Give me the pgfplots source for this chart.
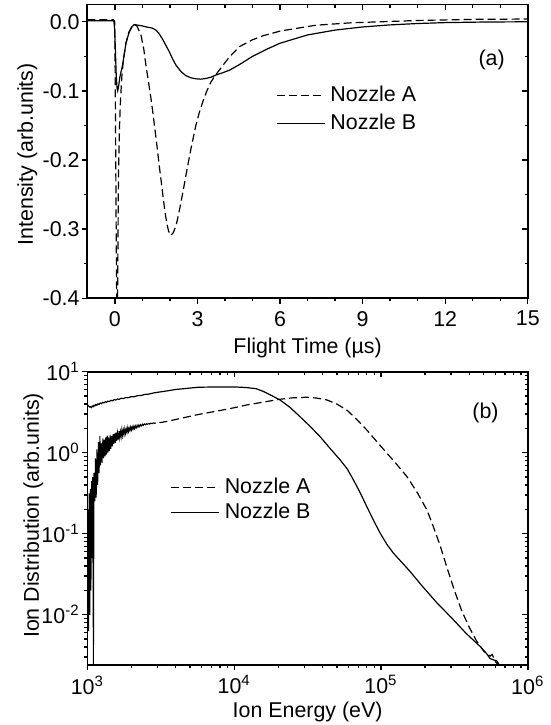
\documentclass[border=0pt]{standalone}
\usepackage{fontspec}
\setmainfont{Liberation Sans}
\usepackage{pgfplots}
\pgfplotsset{compat=1.18}

\pgfplotsset{
  frame/.style={
    scale only axis, width=220.2pt,
    axis line style={line width=0.9pt},
    every tick/.style={black, line width=0.7pt},
    major tick length=2.7pt, minor tick length=1.6pt,
  },
  panel/.style={frame, tick align=outside, xtick pos=left, ytick pos=left,
    yticklabel style={inner sep=1pt},
    legend cell align=left,
    legend image code/.code={\draw[##1] (0pt,0pt) -- (24pt,0pt);},
  },
  mirror/.style={frame, tick align=inside, xtick pos=right, ytick pos=right,
    xticklabels={}, yticklabels={}},
  nozA/.style={black, line width=0.6pt, dash pattern=on 4pt off 2pt},
  nozB/.style={black, line width=0.6pt},
  topgeom/.style={at={(43.7pt,213.35pt)}, anchor=south west, height=146.9pt,
    xmin=-1, xmax=15, ymin=-0.4, ymax=0.025,
    xtick={0,3,6,9,12,15}, minor x tick num=2,
    ytick={-0.4,-0.3,-0.2,-0.1,0}, minor y tick num=1},
  botgeom/.style={at={(43.7pt,30pt)}, anchor=south west, height=146.65pt,
    xmin=1000, xmax=1000000, ymin=0.0024, ymax=10,
    xtick={1000,10000,100000,1000000},
    minor xtick={2000,3000,4000,5000,6000,7000,8000,9000,20000,30000,40000,50000,60000,70000,80000,90000,200000,300000,400000,500000,600000,700000,800000,900000},
    ytick={0.01,0.1,1,10},
    minor ytick={0.003,0.004,0.005,0.006,0.007,0.008,0.009,0.02,0.03,0.04,0.05,0.06,0.07,0.08,0.09,0.2,0.3,0.4,0.5,0.6,0.7,0.8,0.9,2,3,4,5,6,7,8,9}},
}

\begin{document}
\fontsize{10.7}{12.8}\selectfont
\begin{tikzpicture}
\useasboundingbox (0,0) rectangle (275.5pt,362.5pt);

% (a) time of flight
\begin{axis}[panel, topgeom,
  xticklabels={0,3,6,9,12,15},
  yticklabels={-0.4,-0.3,-0.2,-0.1,0.0},
  xlabel={Flight Time (µs)}, ylabel={Intensity (arb.units)},
  xlabel style={at={(axis description cs:0.5,0)}, anchor=north, yshift=-19.8pt, inner sep=0pt},
  ylabel style={at={(axis description cs:-0.16,0.49)}, anchor=north, inner sep=0pt},
  legend style={draw=none, fill=none, at={(axis description cs:0.428,0.642)}, anchor=west,
    inner sep=0pt, row sep=3.6pt, column sep=2pt, nodes={inner sep=0.5pt}},
]
\addplot[nozA] coordinates {
  (-1,0.003) (-0.05,0.003) (-0.01,0.0) (0.01,-0.08) (0.03,-0.2) (0.05,-0.33)
  (0.07,-0.43) (0.09,-0.43) (0.11,-0.32) (0.13,-0.22) (0.16,-0.16) (0.2,-0.115)
  (0.25,-0.08) (0.3,-0.058) (0.4,-0.031) (0.5,-0.016) (0.6,-0.008) (0.7,-0.004)
  (0.8,-0.006) (0.945,-0.019) (1.05,-0.04) (1.127,-0.063) (1.22,-0.087)
  (1.31,-0.111) (1.39,-0.135) (1.465,-0.159) (1.54,-0.184) (1.61,-0.208)
  (1.685,-0.232) (1.757,-0.256) (1.82,-0.275) (1.878,-0.290) (1.95,-0.303)
  (2.036,-0.309) (2.12,-0.305) (2.22,-0.295) (2.31,-0.279) (2.40,-0.261)
  (2.49,-0.242) (2.58,-0.222) (2.67,-0.203) (2.76,-0.184) (2.85,-0.167)
  (2.94,-0.150) (3.06,-0.132) (3.19,-0.116) (3.34,-0.100) (3.49,-0.087)
  (3.64,-0.078) (3.79,-0.070) (4.0,-0.059) (4.16,-0.051) (4.52,-0.036)
  (5.0,-0.026) (5.4,-0.020) (6.0,-0.0135) (7.29,-0.005) (8.57,-0.0015)
  (10,0.0005) (11.1,0.002) (13,0.0035) (15,0.004)
};
\addlegendentry{Nozzle A}
\addplot[nozB] coordinates {
  (-1,0.0015) (-0.04,0.0015) (-0.01,-0.01) (0.02,-0.045) (0.05,-0.08)
  (0.08,-0.097) (0.1,-0.1) (0.13,-0.094) (0.18,-0.08) (0.28,-0.062)
  (0.4,-0.031) (0.52,-0.0145) (0.62,-0.007) (0.7,-0.004) (0.85,-0.005)
  (1.0,-0.006) (1.2,-0.008) (1.35,-0.009) (1.49,-0.012) (1.6,-0.017)
  (1.73,-0.025) (1.85,-0.034) (1.97,-0.043) (2.1,-0.054) (2.22,-0.063)
  (2.4,-0.072) (2.58,-0.078) (2.76,-0.081) (2.94,-0.0825) (3.12,-0.083)
  (3.31,-0.082) (3.5,-0.080) (3.67,-0.077) (3.9,-0.074) (4.16,-0.070)
  (4.52,-0.062) (5.0,-0.050) (5.5,-0.040) (6.0,-0.031) (7.0,-0.019)
  (8.0,-0.012) (9.0,-0.0075) (10,-0.0045) (11,-0.0025) (12,-0.0012)
  (13.5,-0.0003) (15,0.0)
};
\addlegendentry{Nozzle B}
\node at (axis description cs:0.918,0.811) {(a)};
\end{axis}
\begin{axis}[mirror, topgeom] \end{axis}

% (b) ion energy distribution
\begin{loglogaxis}[panel, botgeom,
  xticklabels={10\textsuperscript{3},10\textsuperscript{4},10\textsuperscript{5},10\textsuperscript{6}},
  yticklabels={10\textsuperscript{-2},10\textsuperscript{-1},10\textsuperscript{0},10\textsuperscript{1}},
  xticklabel style={inner sep=2.4pt},
  xlabel={Ion Energy (eV)}, ylabel={Ion Distribution (arb.units)},
  xlabel style={at={(axis description cs:0.5,0)}, anchor=north, yshift=-18.3pt, inner sep=0pt},
  ylabel style={at={(axis description cs:-0.1465,0.51)}, anchor=north, inner sep=0pt},
  legend style={draw=none, fill=none, at={(axis description cs:0.188,0.563)}, anchor=west,
    inner sep=0pt, row sep=2pt, column sep=2pt, nodes={inner sep=0.5pt}},
]
\addplot[nozA] coordinates {
  (2600,2.30) (2650,2.26) (2700,2.31) (2760,2.29) (2820,2.33) (2880,2.31)
  (2950,2.35) (3020,2.33) (3100,2.37) (3162,2.36)
  (3548,2.45) (4467,2.69) (5623,2.95) (7943,3.31) (10000,3.59) (12200,3.89)
  (15850,4.22) (20510,4.57) (25120,4.76) (31190,4.84) (36310,4.73)
  (42660,4.49) (50120,3.98) (58480,3.37) (67610,2.63) (80000,1.91)
  (93330,1.38) (109600,0.989) (128800,0.708) (150000,0.509) (177800,0.316)
  (205100,0.198) (223900,0.132) (251200,0.0741) (281800,0.0380)
  (316200,0.0200) (354800,0.0112) (398100,0.00708) (446700,0.00479)
  (501200,0.00355) (553400,0.00309) (571500,0.00324) (602600,0.00263)
  (631000,0.00240) (700000,0.00236) (800000,0.00232)
};
\addlegendentry{Nozzle A}
\addplot[nozB] coordinates {
  (1000,3.92) (1012,3.80) (1025,3.74) (1038,3.66) (1050,3.70) (1065,3.62)
  (1080,3.78) (1096,3.70) (1110,3.85) (1125,3.79) (1140,3.94) (1160,3.86)
  (1180,4.01) (1200,3.95) (1222,4.10) (1245,4.03) (1270,4.18) (1295,4.12)
  (1320,4.25) (1350,4.19) (1380,4.33) (1410,4.28) (1445,4.43) (1480,4.37)
  (1520,4.52) (1560,4.47) (1600,4.60) (1650,4.57) (1700,4.70) (1760,4.66)
  (1820,4.79) (1900,4.78) (1995,4.92) (2090,4.92) (2200,5.06) (2320,5.08)
  (2450,5.24) (2600,5.28) (2818,5.46) (3000,5.57) (3200,5.66) (3500,5.80)
  (3981,6.03) (5702,6.43) (7943,6.49) (10000,6.49) (12050,6.38)
  (14130,6.17) (15850,5.69) (17780,5.13) (20510,4.48) (23990,3.63)
  (28050,2.79) (33110,2.09) (38370,1.585) (44670,1.148) (52600,0.818)
  (58880,0.631) (64860,0.463) (72440,0.316) (79980,0.217) (89130,0.145)
  (98620,0.102) (109600,0.0741) (121600,0.0575) (141300,0.0427)
  (158500,0.0339) (189700,0.0229) (239900,0.0141) (303400,0.00912)
  (380200,0.00589) (473200,0.00407) (524800,0.00331) (553400,0.00288)
  (615200,0.00269) (645700,0.00234) (750000,0.0023)
};
\addlegendentry{Nozzle B}
% noisy low-energy part of nozzle A
\addplot[black, line width=0.5pt, forget plot] coordinates {
  (1000,0.0126) (1009,0.2) (1019,0.0063) (1028,0.316) (1038,0.01) (1047,0.355)
  (1057,0.02) (1067,0.447) (1076,0.05) (1086,0.5) (1099,0.002) (1109,0.562)
  (1122,0.251) (1135,0.85) (1148,0.28) (1161,1.1) (1175,0.40) (1189,1.35)
  (1202,0.56) (1216,1.60) (1230,0.70) (1245,1.30) (1259,0.75) (1274,1.50)
  (1288,0.85) (1303,1.45) (1318,0.90) (1334,1.55) (1349,0.95) (1365,1.62)
  (1380,1.00) (1396,1.55) (1413,1.05) (1429,1.66) (1445,1.12) (1462,1.60)
  (1479,1.20) (1496,1.70) (1514,1.28) (1531,1.72) (1549,1.32) (1567,1.78)
  (1585,1.40) (1603,1.75) (1622,1.45) (1641,1.85) (1660,1.52) (1679,1.82)
  (1698,1.58) (1718,1.95) (1738,1.62) (1758,1.90) (1778,1.68) (1799,1.98)
  (1820,1.72) (1841,1.96) (1862,1.78) (1884,2.05) (1905,1.82) (1928,2.02)
  (1950,1.88) (1972,2.08) (1995,1.90) (2020,2.10) (2045,1.95) (2070,2.12)
  (2095,1.98) (2120,2.15) (2150,2.02) (2180,2.18) (2210,2.06) (2240,2.20)
  (2270,2.10) (2300,2.22) (2330,2.14) (2370,2.25) (2400,2.17) (2440,2.27)
  (2480,2.21) (2520,2.28) (2560,2.24) (2600,2.30)
};
\node at (axis description cs:0.904,0.859) {(b)};
\end{loglogaxis}
\begin{loglogaxis}[mirror, botgeom] \end{loglogaxis}
\end{tikzpicture}
\end{document}
